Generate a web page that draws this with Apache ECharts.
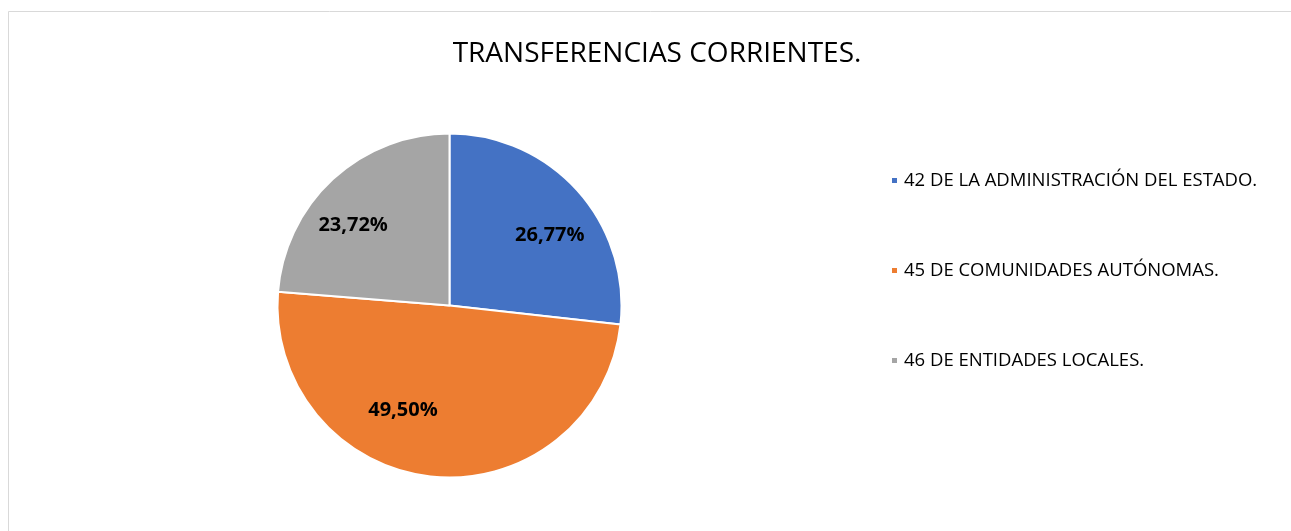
<!DOCTYPE html>
<html>
<head>
<meta charset="utf-8">
<script src="https://cdn.jsdelivr.net/npm/echarts@6/dist/echarts.min.js"></script>
<style>
  html, body { margin: 0; padding: 0; background: #fff; }
  #chart { width: 1291px; height: 531px; }
</style>
</head>
<body>
<div id="chart"></div>
<script>
const categorias = [
  '42 DE LA ADMINISTRACIÓN DEL ESTADO.',
  '45 DE COMUNIDADES AUTÓNOMAS.',
  '46 DE ENTIDADES LOCALES.'
];
const porcentajes = [26.77, 49.50, 23.72];
const colores = ['#4472C4', '#ED7D31', '#A5A5A5'];
// desplazamiento de cada etiqueta respecto a su posicion 'inside'
const desplazamientos = [[34, -11], [-38, 16], [-36, -15]];

const initChart = () => {
  let chartDom = document.getElementById('chart');
  const myChart = echarts.init(chartDom);

  const datos = categorias.map((nombre, i) => ({
    name: nombre,
    value: porcentajes[i],
    itemStyle: { color: colores[i] },
    label: { offset: desplazamientos[i] }
  }));

  const option = {
    animation: false,
    backgroundColor: '#fff',
    title: {
      text: 'TRANSFERENCIAS CORRIENTES.',
      left: 652,
      top: 35,
      textAlign: 'center',
      textStyle: {
        fontFamily: 'Open Sans',
        fontWeight: 'normal',
        fontSize: 28,
        color: '#000'
      }
    },
    legend: {
      orient: 'vertical',
      left: 885,
      top: 166,
      itemWidth: 7,
      itemHeight: 7,
      itemGap: 71,
      icon: 'rect',
      textStyle: {
        fontFamily: 'Open Sans',
        fontSize: 18.5,
        color: '#000',
        padding: [0, 0, 0, 1]
      },
      data: categorias
    },
    graphic: [{
      type: 'rect',
      silent: true,
      shape: { x: 8.5, y: 11.5, width: 1400, height: 700 },
      style: { fill: 'none', stroke: '#d9d9d9', lineWidth: 1 }
    }],
    series: [{
      type: 'pie',
      center: [449.5, 305.5],
      radius: 172,
      startAngle: 90,
      clockwise: true,
      itemStyle: { borderColor: '#fff', borderWidth: 2 },
      label: {
        show: true,
        position: 'inside',
        fontFamily: 'Open Sans',
        fontWeight: 'bold',
        fontSize: 20,
        color: '#000',
        formatter: p => p.value.toFixed(2).replace('.', ',') + '%'
      },
      labelLine: { show: false },
      emphasis: { disabled: true },
      data: datos
    }]
  };
  myChart.setOption(option);
};

window.addEventListener('load', initChart);
</script>
</body>
</html>
